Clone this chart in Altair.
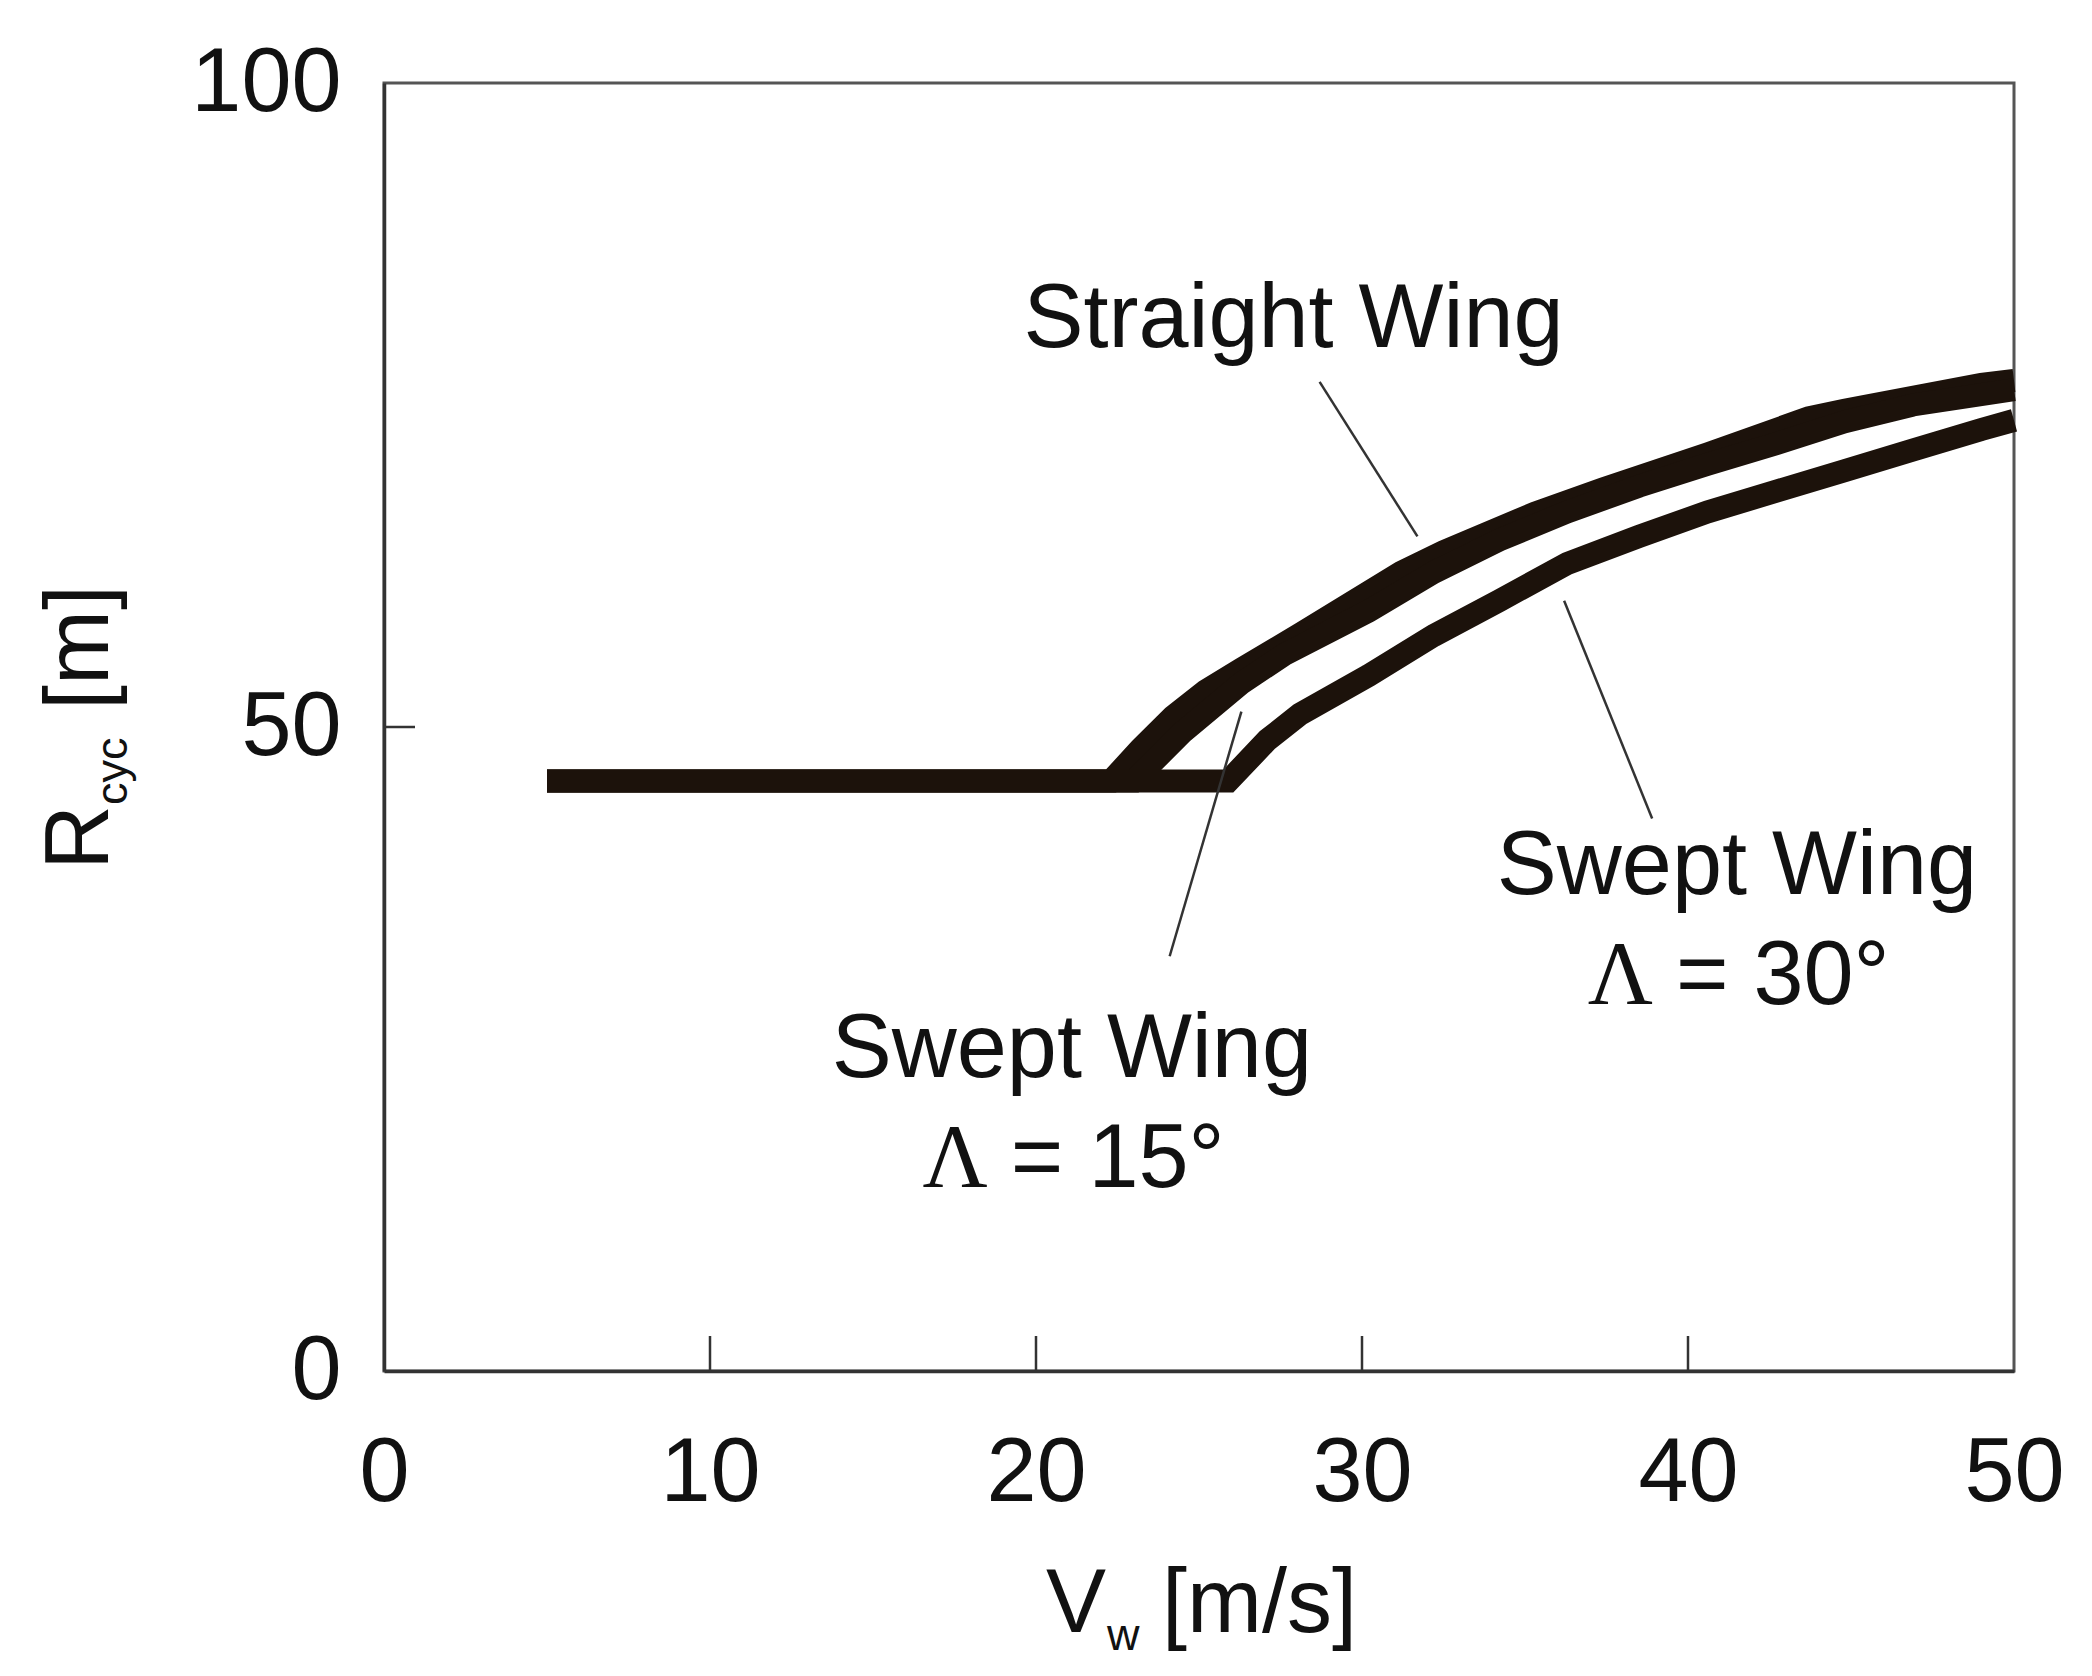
import pandas as pd
import altair as alt

# cycle radius vs wind speed
straight_v = [5, 22.3, 23.2, 24.2, 25.2, 26.3, 28.1, 31.2, 32.5, 35.3, 37.4, 40.6, 43.7, 44.8, 46.9, 49.0, 50]
straight_r = [45.8, 45.8, 48.3, 50.8, 52.8, 54.5, 57.2, 62.0, 63.6, 66.6, 68.5, 71.2, 74.0, 74.6, 75.6, 76.6, 76.9]

swept15_v = [5, 23.0, 24.5, 26.3, 27.6, 30.2, 32.2, 34.2, 36.3, 38.5, 40.6, 42.7, 44.8, 46.9, 50]
swept15_r = [45.8, 45.8, 49.6, 53.4, 55.6, 59.0, 62.0, 64.5, 66.7, 68.7, 70.4, 72.0, 73.7, 75.0, 76.2]

swept30_v = [5, 25.9, 27.1, 28.1, 30.2, 32.2, 34.2, 36.3, 38.5, 40.6, 42.7, 44.8, 46.9, 49.0, 50]
swept30_r = [45.8, 45.8, 49.0, 51.0, 54.0, 57.1, 59.8, 62.7, 64.8, 66.7, 68.3, 69.9, 71.5, 73.1, 73.8]

x_ticks = [0, 10, 20, 30, 40, 50]
y_ticks = [0, 50, 100]
x_inner_ticks = [10, 20, 30, 40]
y_inner_ticks = [50]

# annotations
label_text = ['Straight Wing', 'Swept Wing', 'Swept Wing']
label_x = [27.9, 21.1, 41.5]
label_y = [79.5, 22.8, 37.0]

lambda_text = ['= 15°', '= 30°']
lambda_x = [21.1, 41.5]
lambda_y = [14.3, 28.5]

leader_x = [28.7, 24.1, 36.2]
leader_y = [76.8, 32.2, 59.8]
leader_x2 = [31.7, 26.3, 38.9]
leader_y2 = [64.8, 51.2, 42.9]

W, H = 1630, 1288
INK = '#1c120b'
FONT = 'Liberation Sans'

frames = []
for name, vs, rs in [('Straight', straight_v, straight_r),
                     ('Swept 15', swept15_v, swept15_r),
                     ('Swept 30', swept30_v, swept30_r)]:
    frames.append(pd.DataFrame({'wing': name, 'v': vs, 'r': rs, 'ord': range(len(vs))}))
curves = pd.concat(frames)

xscale = alt.Scale(domain=[0, 50], nice=False)
yscale = alt.Scale(domain=[0, 100], nice=False)

x_axis = alt.Axis(values=x_ticks, title='', ticks=False, labelPadding=58, labelFlush=False,
                  labelFontSize=90, labelFont=FONT, labelColor='#111',
                  domainColor='#333', domainWidth=3.5, grid=False)
y_axis = alt.Axis(values=y_ticks, title='', ticks=False, labelPadding=43, labelFlush=False,
                  labelFontSize=90, labelFont=FONT, labelColor='#111',
                  domainColor='#333', domainWidth=3.5, grid=False)


def X(field):
    return alt.X(field, scale=xscale, axis=x_axis)


def Y(field):
    return alt.Y(field, scale=yscale, axis=y_axis)


lines = alt.Chart(curves).mark_line(
    color=INK, strokeWidth=23, strokeCap='butt', strokeJoin='miter'
).encode(
    x=X('v:Q'),
    y=Y('r:Q'),
    detail='wing:N',
    order='ord:Q'
)

xt = alt.Chart(pd.DataFrame({'v': x_inner_ticks})).mark_rule(color='#333', strokeWidth=2.5).encode(
    x=X('v:Q'),
    y=alt.value(H),
    y2=alt.value(H - 35)
)

yt = alt.Chart(pd.DataFrame({'r': y_inner_ticks})).mark_rule(color='#333', strokeWidth=2.5).encode(
    y=Y('r:Q'),
    x=alt.value(0),
    x2=alt.value(31)
)

leaders = alt.Chart(pd.DataFrame({'v': leader_x, 'r': leader_y, 'v2': leader_x2, 'r2': leader_y2})).mark_rule(
    color='#333', strokeWidth=2.5
).encode(
    x=X('v:Q'),
    y=Y('r:Q'),
    x2='v2:Q',
    y2='r2:Q'
)

labels = alt.Chart(pd.DataFrame({'v': label_x, 'r': label_y, 'txt': label_text})).mark_text(
    font=FONT, fontSize=90, color='#111', align='center', baseline='alphabetic'
).encode(
    x=X('v:Q'),
    y=Y('r:Q'),
    text='txt:N'
)

lam_df = pd.DataFrame({'v': lambda_x, 'r': lambda_y, 'txt': lambda_text})

lam_sym = alt.Chart(lam_df).mark_text(
    font='Liberation Serif', fontSize=90, color='#111', align='right', baseline='alphabetic', dx=-84, text='Λ'
).encode(
    x=X('v:Q'),
    y=Y('r:Q')
)

lam_val = alt.Chart(lam_df).mark_text(
    font=FONT, fontSize=90, color='#111', align='left', baseline='alphabetic', dx=-61
).encode(
    x=X('v:Q'),
    y=Y('r:Q'),
    text='txt:N'
)

one = pd.DataFrame({'k': [0]})


def title_part(txt, px, py, size, angle=0):
    return alt.Chart(one).mark_text(
        text=txt, font=FONT, fontSize=size, color='#111', align='left',
        baseline='alphabetic', angle=angle
    ).encode(x=alt.value(px), y=alt.value(py))


# axis titles with subscripts
y_title = (title_part('R', -276, 787, 90, 270)
           + title_part('cyc', -257, 722, 45, 270)
           + title_part('[m]', -276, 627, 90, 270))
x_title = (title_part('V', 662, 1549, 90)
           + title_part('w', 723, 1567, 45)
           + title_part('[m/s]', 778, 1549, 90))

chart = alt.layer(
    lines, xt, yt, leaders, labels, lam_sym, lam_val, y_title, x_title
).properties(
    width=W,
    height=H,
    padding={'left': 376, 'top': 75, 'right': 60, 'bottom': 290},
    autosize=alt.AutoSizeParams(type='none')
).configure_view(
    stroke='#555', strokeWidth=3
)

chart.save("out.html", embed_options={"renderer": "svg", "actions": False})
